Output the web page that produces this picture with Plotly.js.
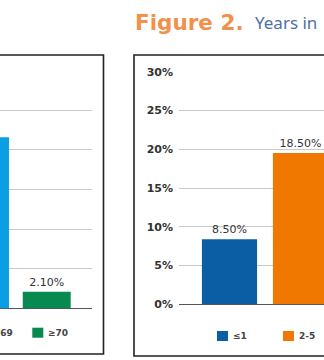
<!DOCTYPE html>
<html>
<head>
<meta charset="utf-8">
<script src="https://cdn.plot.ly/plotly-3.0.1.min.js"></script>
<style>html,body{margin:0;padding:0;background:#fff;}#chart{width:324px;height:360px;}</style>
</head>
<body>
<div id="chart"></div>
<script>
// ---- data ----
const leftCategories = ["60-69", "≥70"];
const leftValues = [21.6, 2.1];
const leftLabels = ["21.60%", "2.10%"];
const leftColors = ["#0a9fe3", "#07894f"];

const rightCategories = ["≤1", "2-5"];
const rightValues = [8.4, 19.5];
const rightLabels = ["8.50%", "18.50%"];
const rightColors = ["#0b5ea3", "#f07800"];

const yTickVals = [0, 5, 10, 15, 20, 25, 30];
const yTickText = ["0%", "5%", "10%", "15%", "20%", "25%", "30%"];

const titleMain = "Figure 2.";
const titleSub = "Years in";

// ---- layout helpers (pixel -> paper) ----
const W = 324, H = 360;
const px = x => x / W;
const py = y => 1 - y / H;

const labelFont = {family: "DejaVu Sans", size: 11, color: "#333"};

const traces = [
  {type: "bar", x: leftCategories, y: leftValues, text: leftLabels,
   textposition: "outside", cliponaxis: false, textfont: labelFont,
   marker: {color: leftColors}, xaxis: "x", yaxis: "y", hoverinfo: "skip", showlegend: false},
  {type: "bar", x: rightCategories, y: rightValues, text: rightLabels,
   textposition: "outside", cliponaxis: false, textfont: labelFont,
   marker: {color: rightColors}, xaxis: "x2", yaxis: "y2", hoverinfo: "skip", showlegend: false}
];

const shapes = [];
const annotations = [];

// panel frames
shapes.push({type: "rect", xref: "paper", yref: "paper", x0: px(-10), x1: px(103.5), y0: py(354), y1: py(55),
  line: {color: "#222", width: 1.6}});
shapes.push({type: "rect", xref: "paper", yref: "paper", x0: px(134), x1: px(340), y0: py(356), y1: py(55),
  line: {color: "#222", width: 1.6}});

// custom legends
function addLegend(cats, colors, startX, spacing, topY) {
  cats.forEach((c, i) => {
    const x0 = startX + i * spacing;
    shapes.push({type: "rect", xref: "paper", yref: "paper", x0: px(x0), x1: px(x0 + 11),
      y0: py(topY + 10), y1: py(topY), fillcolor: colors[i], line: {width: 0}});
    annotations.push({xref: "paper", yref: "paper", x: px(x0 + 14), y: py(topY + 5), xanchor: "left", yanchor: "middle",
      text: c, showarrow: false, font: {family: "DejaVu Sans", size: 9, weight: "bold", color: "#444"}});
  });
}
addLegend(leftCategories, leftColors, -31.7, 64, 327.7);
addLegend(rightCategories, rightColors, 217, 66, 331);

// title
annotations.push({xref: "paper", yref: "paper", x: px(133), y: py(22), xanchor: "left", yanchor: "middle",
  text: titleMain, showarrow: false, font: {family: "DejaVu Sans", size: 21.5, weight: "bold", color: "#f0914c"}});
annotations.push({xref: "paper", yref: "paper", x: px(253), y: py(22.5), xanchor: "left", yanchor: "middle",
  text: titleSub, showarrow: false, font: {family: "Noto Sans", size: 17, color: "#4f70a5"}});

const layout = {
  width: W, height: H,
  margin: {l: 0, r: 0, t: 0, b: 0},
  paper_bgcolor: "#fff", plot_bgcolor: "#fff",
  bargap: 0.223,
  showlegend: false,
  xaxis: {domain: [0, px(91.7)], range: [0.243, 1.729], type: "category",
    showticklabels: false, showgrid: false, zeroline: false, showline: false, ticks: "", fixedrange: true},
  yaxis: {domain: [py(308.5), py(70.7)], range: [0, 30], tickvals: yTickVals, ticktext: yTickText,
    showticklabels: false, gridcolor: "#c9c9c9", gridwidth: 1, zeroline: true, zerolinecolor: "#555",
    zerolinewidth: 1, showline: false, ticks: "", fixedrange: true},
  xaxis2: {domain: [px(179), 1], range: [-0.711, 1.331], type: "category", anchor: "y2",
    showticklabels: false, showgrid: false, zeroline: false, showline: false, ticks: "", fixedrange: true},
  yaxis2: {domain: [py(304.3), py(71.7)], range: [0, 30], anchor: "x2", tickvals: yTickVals, ticktext: yTickText,
    tickfont: {family: "DejaVu Sans", size: 11, weight: "bold", color: "#333"},
    ticklabelstandoff: 5,
    gridcolor: "#c9c9c9", gridwidth: 1, zeroline: true, zerolinecolor: "#555", zerolinewidth: 1,
    showline: false, ticks: "", fixedrange: true},
  shapes: shapes,
  annotations: annotations
};

Plotly.newPlot("chart", traces, layout, {displayModeBar: false, staticPlot: true});
</script>
</body>
</html>
